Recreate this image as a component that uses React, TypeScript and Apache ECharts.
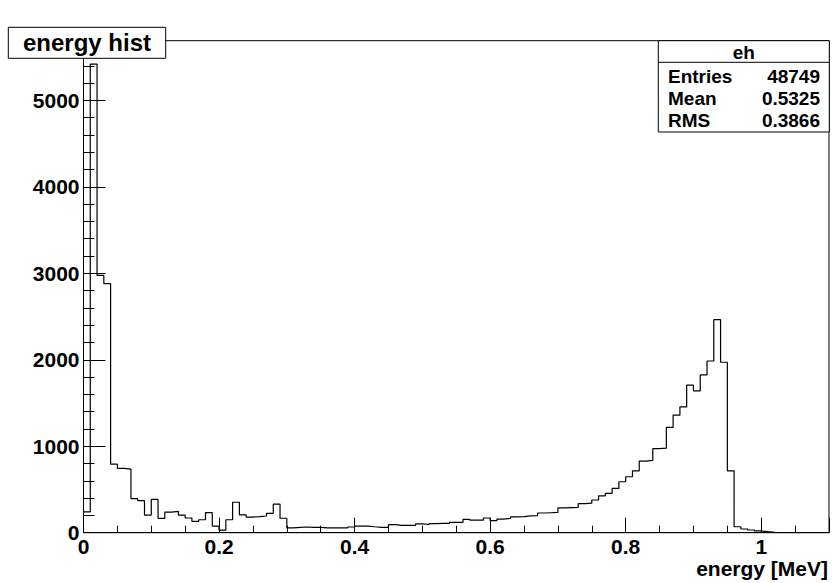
import React, { useEffect, useRef } from 'react';
import * as echarts from 'echarts';

// ---- data ----
const histTitle = 'energy hist';
const histName = 'eh';
const xAxisTitle = 'energy [MeV]';
const binWidth = 0.01;
const xMin = 0;
const xMax = 1.1;
const yMax = 5690;
const binCounts = [
  240, 5420, 2975, 2880, 793, 743, 735, 393, 370, 204,
  385, 166, 239, 247, 204, 170, 130, 150, 233, 77,
  30, 150, 352, 206, 181, 185, 193, 224, 330, 167,
  55, 62, 66, 62, 61, 55, 55, 55, 55, 66,
  77, 77, 69, 62, 62, 93, 85, 85, 85, 102,
  95, 105, 108, 108, 120, 120, 155, 145, 145, 170,
  140, 158, 166, 183, 187, 194, 198, 228, 231, 234,
  286, 289, 292, 336, 341, 378, 427, 455, 512, 589,
  647, 716, 828, 836, 972, 978, 1217, 1359, 1455, 1706,
  1640, 1825, 1986, 2464, 1971, 716, 69, 43, 31, 20,
  12, 5, 0, 0, 0, 0, 0, 0, 0, 0,
];
const statsLabels = ['Entries', 'Mean', 'RMS'];
const statsValues = ['48749', '0.5325', '0.3866'];
const xMajorInterval = 0.2;
const xMinorInterval = 0.05;
const yMajorInterval = 1000;
const yMinorInterval = 200;
const yLabelMax = 5000;
const xLabelMax = 1.0;

const FONT = '"Liberation Sans", Arial, Helvetica, sans-serif';

export default function App() {
  const ref = useRef<HTMLDivElement>(null);

  useEffect(() => {
    if (!ref.current) return;
    const chart = echarts.init(ref.current, null, { renderer: 'svg' });

    const data: [number, number][] = binCounts.map((v, i) => [
      +(xMin + i * binWidth).toFixed(4),
      v,
    ]);
    data.push([
      +(xMin + binCounts.length * binWidth).toFixed(4),
      binCounts[binCounts.length - 1],
    ]);

    const axisText = {
      fontSize: 21,
      fontWeight: 'bold' as const,
      fontFamily: FONT,
      color: '#000',
    };

    const statsTop = 40.7;
    const statsLeft = 658.3;
    const statsRight = 829.3;
    const headerBottom = 62.3;
    const rowStep = 22;
    const statsBottom = 132;

    const graphicEls: any[] = [
      {
        type: 'rect',
        z: 100,
        shape: { x: 8.3, y: 27.3, width: 157.4, height: 31 },
        style: { fill: '#fff', stroke: '#000', lineWidth: 1 },
      },
      {
        type: 'text',
        z: 101,
        x: 87,
        y: 42.5,
        style: {
          text: histTitle,
          fontSize: 24,
          fontWeight: 'bold',
          fontFamily: FONT,
          fill: '#000',
          align: 'center',
          verticalAlign: 'middle',
        },
      },
      {
        type: 'rect',
        z: 100,
        shape: {
          x: statsLeft,
          y: statsTop,
          width: statsRight - statsLeft,
          height: statsBottom - statsTop,
        },
        style: { fill: '#fff', stroke: '#000', lineWidth: 1 },
      },
      {
        type: 'line',
        z: 101,
        shape: { x1: statsLeft, y1: headerBottom, x2: statsRight, y2: headerBottom },
        style: { stroke: '#000', lineWidth: 1 },
      },
      {
        type: 'text',
        z: 101,
        x: (statsLeft + statsRight) / 2,
        y: 52.5,
        style: {
          text: histName,
          fontSize: 19,
          fontWeight: 'bold',
          fontFamily: FONT,
          fill: '#000',
          align: 'center',
          verticalAlign: 'middle',
        },
      },
      {
        type: 'text',
        z: 101,
        x: 828,
        y: 568,
        style: {
          text: xAxisTitle,
          fontSize: 21,
          fontWeight: 'bold',
          fontFamily: FONT,
          fill: '#000',
          align: 'right',
          verticalAlign: 'middle',
        },
      },
    ];

    statsLabels.forEach((lab, i) => {
      const y = 76.5 + i * rowStep;
      graphicEls.push({
        type: 'text',
        z: 101,
        x: 668,
        y,
        style: {
          text: lab,
          fontSize: 19,
          fontWeight: 'bold',
          fontFamily: FONT,
          fill: '#000',
          align: 'left',
          verticalAlign: 'middle',
        },
      });
      graphicEls.push({
        type: 'text',
        z: 101,
        x: 820,
        y,
        style: {
          text: statsValues[i],
          fontSize: 19,
          fontWeight: 'bold',
          fontFamily: FONT,
          fill: '#000',
          align: 'right',
          verticalAlign: 'middle',
        },
      });
    });

    chart.setOption({
      animation: false,
      backgroundColor: '#fff',
      grid: {
        left: 83.5,
        right: 2.7,
        top: 40.7,
        bottom: 50.3,
        show: true,
        borderColor: '#000',
        borderWidth: 1,
        backgroundColor: 'transparent',
        containLabel: false,
      },
      xAxis: [
        {
          type: 'value',
          position: 'bottom',
          min: xMin,
          max: xMax,
          interval: xMajorInterval,
          axisLine: { show: true, lineStyle: { color: '#000', width: 1 } },
          axisTick: { show: true, inside: true, length: 15, lineStyle: { color: '#000', width: 1 } },
          axisLabel: {
            ...axisText,
            margin: 3,
            showMinLabel: true,
            showMaxLabel: true,
            formatter: (v: number) => (v > xLabelMax + 1e-6 ? '' : String(+v.toFixed(1))),
          },
          splitLine: { show: false },
        },
        {
          type: 'value',
          position: 'bottom',
          min: xMin,
          max: xMax,
          interval: xMinorInterval,
          axisLine: { show: false },
          axisTick: { show: true, inside: true, length: 7, lineStyle: { color: '#000', width: 1 } },
          axisLabel: { show: false },
          splitLine: { show: false },
        },
      ],
      yAxis: [
        {
          type: 'value',
          position: 'left',
          min: 0,
          max: yMax,
          interval: yMajorInterval,
          axisLine: { show: true, lineStyle: { color: '#000', width: 1 } },
          axisTick: { show: true, inside: true, length: 22, lineStyle: { color: '#000', width: 1 } },
          axisLabel: {
            ...axisText,
            margin: 4,
            showMinLabel: true,
            formatter: (v: number) => (v > yLabelMax ? '' : String(v)),
          },
          splitLine: { show: false },
        },
        {
          type: 'value',
          position: 'left',
          min: 0,
          max: yMax,
          interval: yMinorInterval,
          axisLine: { show: false },
          axisTick: { show: true, inside: true, length: 11, lineStyle: { color: '#000', width: 1 } },
          axisLabel: { show: false },
          splitLine: { show: false },
        },
      ],
      series: [
        {
          type: 'line',
          xAxisIndex: 0,
          yAxisIndex: 0,
          step: 'end',
          symbol: 'none',
          data,
          lineStyle: { color: '#000', width: 1.2 },
          clip: true,
        },
      ],
      graphic: { elements: graphicEls },
    });

    return () => chart.dispose();
  }, []);

  return (
    <div
      ref={ref}
      style={{ position: 'fixed', left: 0, top: 0, width: 832, height: 583 }}
    />
  );
}
